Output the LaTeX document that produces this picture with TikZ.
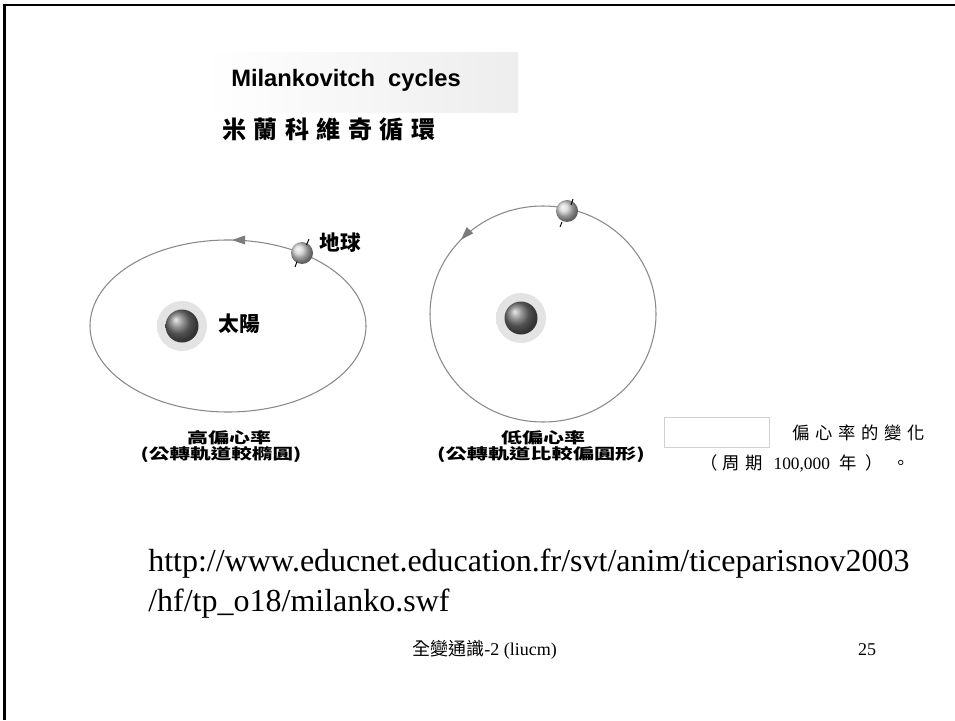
\documentclass[tikz,border=0pt]{standalone}
\usepackage{fontspec}
\setmainfont{Liberation Serif}
\newfontfamily\arialb{Liberation Sans}
\newfontfamily\cjk{Noto Sans CJK TC}
\definecolor{orbitgray}{HTML}{8A8A8A}
\definecolor{boxgray}{HTML}{D0D0D0}
% soft halo around the sun: the sun covers radius 33bp of the 50bp disc
\pgfdeclareradialshading{sunhalo}{\pgfpoint{0bp}{0bp}}{%
  color(0bp)=(black!11); color(33bp)=(black!11); color(41bp)=(black!5);
  color(50bp)=(white)}
\tikzset{
  orbit/.style={draw=orbitgray, line width=0.8pt},
  orbittip/.style={fill=orbitgray!90!black},
  axistick/.style={draw=black, line width=0.7pt},
  glow/.style={shading=sunhalo},
  sunball/.style={ball color=black!55},
  earthball/.style={ball color=black!18},
  bodylabel/.style={font=\cjk\bfseries\fontsize{15.5}{15.5}\selectfont, inner sep=0pt},
  caption/.style={font=\cjk\bfseries\fontsize{15}{15}\selectfont, inner sep=0pt},
  plain/.style={inner sep=0pt}
}
\begin{document}
\begin{tikzpicture}[x=0.75pt,y=-0.75pt]
\useasboundingbox (0,0) rectangle (955,720);
\fill[white] (0,0) rectangle (955,720);

% slide frame (top and left edges)
\draw[line width=2.2pt] (4.5,720) -- (4.5,5) -- (955,5);

% title band
\shade[left color=white, right color=black!7] (205,53) rectangle (518,113);
\node[plain, anchor=base west, font=\arialb\bfseries\fontsize{17.8}{17.8}\selectfont] (title) at (231,87) {Milankovitch\ \ cycles};
\node[plain, anchor=base west, font=\cjk\bfseries\fontsize{18}{18}\selectfont] (subtitle) at (222,139)
  {米\hspace{5.6pt}蘭\hspace{5.6pt}科\hspace{5.6pt}維\hspace{5.6pt}奇\hspace{5.6pt}循\hspace{5.6pt}環};

% ---- high eccentricity orbit ----
\draw[orbit] (228,326) ellipse [x radius=138, y radius=86];
\fill[orbittip] (232,240) -- (245,235.5) -- (245,244.5) -- cycle;
\shade[glow] (182,326) circle (25);
\shade[sunball] (182,326) circle (16.5);
\shade[earthball] (302,253) circle (11);
\draw[axistick] (309,239) -- (306.5,245);
\draw[axistick] (297,261.5) -- (295,267);
\node[bodylabel] (earthA) at (340,243) {地球};
\node[bodylabel] (sunA) at (239,324) {太陽};
\node[caption] (capA1) at (229,438) {\scalebox{1.05}[0.75]{高偏心率}};
\node[caption] (capA2) at (221,455) {\scalebox{1.03}[0.75]{(公轉軌道較橢圓)}};

% ---- low eccentricity orbit ----
\draw[orbit] (543,314) ellipse [x radius=113, y radius=108];
\fill[orbittip] (461,239.7) -- (473.3,233.3) -- (466.7,227.1) -- cycle;
\shade[glow] (521,318) circle (25);
\shade[sunball] (521,318) circle (16.5);
\shade[earthball] (567,211) circle (11);
\draw[axistick] (573,199) -- (571,205);
\draw[axistick] (562,222) -- (560,227);
\node[caption] (capB1) at (543,438) {\scalebox{1.05}[0.75]{低偏心率}};
\node[caption] (capB2) at (541,455) {\scalebox{1.06}[0.75]{(公轉軌道比較偏圓形)}};

% ---- note on the right ----
\draw[boxgray, line width=0.7pt] (664,417) rectangle (769,447);
\node[plain, anchor=west, font=\cjk\fontsize{13}{13}\selectfont] (note1) at (792,432.5)
  {偏\hspace{4.3pt}心\hspace{4.3pt}率\hspace{4.3pt}的\hspace{4.3pt}變\hspace{4.3pt}化};
\node[plain, anchor=west, font=\fontsize{13}{13}\selectfont] (note2) at (700,463.5)
  {{\cjk （}\hspace{4pt}{\cjk 周}\hspace{4pt}{\cjk 期}\hspace{8pt}100,000\hspace{7pt}{\cjk 年}\hspace{7pt}{\cjk ）}\hspace{7pt}{\cjk 。}};

% ---- source link ----
\node[plain, anchor=base west, font=\fontsize{24}{24}\selectfont] (url1) at (148,571)
  {http://www.educnet.education.fr/svt/anim/ticeparisnov2003};
\node[plain, anchor=base west, font=\fontsize{24}{24}\selectfont] (url2) at (148,611)
  {/hf/tp\_o18/milanko.swf};

% ---- footer ----
\node[plain, anchor=base west, font=\fontsize{13.5}{13.5}\selectfont] (footer) at (412,655)
  {{\cjk 全變通識}-2 (liucm)};
\node[plain, anchor=base, font=\fontsize{13.5}{13.5}\selectfont] (pagenum) at (867,655) {25};
\end{tikzpicture}
\end{document}
